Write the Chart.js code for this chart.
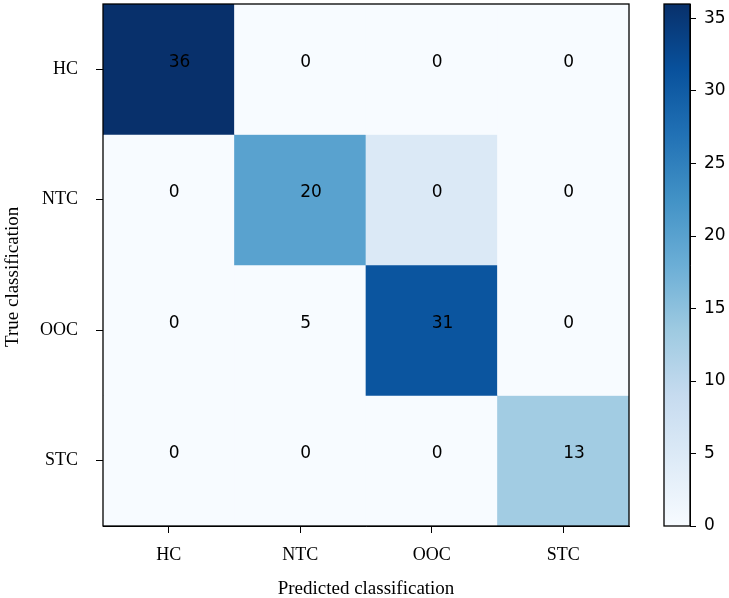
<!DOCTYPE html>
<html lang="en">
<head>
  <meta charset="UTF-8">
  <title>Confusion matrix</title>
  <script src="https://cdn.jsdelivr.net/npm/chart.js@4.4.1/dist/chart.umd.min.js"></script>
  <style>
    body { margin: 0; background: #fff; }
    .wrap { position: relative; width: 729px; height: 598px; }
    #matrixBox { position: absolute; left: 0; top: 0; width: 729px; height: 598px; }
    #barBox { position: absolute; left: 640px; top: 0; width: 89px; height: 598px; }
  </style>
</head>
<body>
  <div class="wrap">
    <div id="matrixBox"><canvas id="matrix"></canvas></div>
    <div id="barBox"><canvas id="colorbar"></canvas></div>
  </div>
  <script>
    const classes = ['HC', 'NTC', 'OOC', 'STC'];

    // numbers written in the cells (rows = true class, columns = predicted)
    const shownCounts = [
      [36, 0, 0, 0],
      [0, 20, 0, 0],
      [0, 5, 31, 0],
      [0, 0, 0, 13]
    ];

    // values the cell colours come from, as they appear in the figure
    const colourCounts = [
      [36, 0, 0, 0],
      [0, 20, 5, 0],
      [0, 0, 31, 0],
      [0, 0, 0, 13]
    ];

    const colourMin = 0;
    const colourMax = 36;
    const colourbarTicks = [0, 5, 10, 15, 20, 25, 30, 35];

    // matplotlib "Blues"
    const blues = ['#f7fbff', '#deebf7', '#c6dbef', '#9ecae1', '#6baed6', '#4292c6', '#2171b5', '#08519c', '#08306b'];

    function hexToRgb(h) {
      const n = parseInt(h.slice(1), 16);
      return [(n >> 16) & 255, (n >> 8) & 255, n & 255];
    }

    function bluesAt(v) {
      let t = (v - colourMin) / (colourMax - colourMin);
      t = Math.max(0, Math.min(1, t));
      const pos = t * (blues.length - 1);
      const i = Math.min(Math.floor(pos), blues.length - 2);
      const f = pos - i;
      const a = hexToRgb(blues[i]);
      const b = hexToRgb(blues[i + 1]);
      const c = a.map((x, k) => Math.round(x + (b[k] - x) * f));
      return 'rgb(' + c.join(',') + ')';
    }

    const serif = { family: '"Liberation Serif", "DejaVu Serif", serif', size: 18 };
    const sans = { family: '"DejaVu Sans", sans-serif', size: 17 };

    Chart.defaults.color = '#000';

    const frame = {
      id: 'frame',
      afterDatasetsDraw(chart) {
        const { ctx, chartArea } = chart;
        ctx.save();
        ctx.strokeStyle = '#000';
        ctx.lineWidth = 1.3;
        ctx.strokeRect(chartArea.left, chartArea.top, chartArea.right - chartArea.left, chartArea.bottom - chartArea.top);
        ctx.restore();
      }
    };

    const cellText = {
      id: 'cellText',
      afterDatasetsDraw(chart) {
        const { ctx, scales } = chart;
        ctx.save();
        ctx.font = sans.size + 'px ' + sans.family;
        ctx.fillStyle = '#000';
        ctx.textAlign = 'left';
        ctx.textBaseline = 'middle';
        shownCounts.forEach((row, r) => {
          row.forEach((val, c) => {
            const x = scales.x.getPixelForValue(c);
            const y = scales.y.getPixelForValue(r) - 7;
            ctx.fillText(String(val), x, y);
          });
        });
        ctx.restore();
      }
    };

    const classTicks = scale => { scale.ticks = classes.map((c, i) => ({ value: i })); };
    const noPad = s => { s.paddingTop = 0; s.paddingBottom = 0; s.paddingLeft = 0; s.paddingRight = 0; };

    new Chart(document.getElementById('matrix'), {
      type: 'bar',
      data: {
        datasets: classes.map((rowName, r) => ({
          label: rowName,
          data: classes.map((colName, c) => ({ x: c, y: [r - 0.5, r + 0.5] })),
          backgroundColor: colourCounts[r].map(bluesAt),
          borderWidth: 0,
          borderSkipped: false,
          grouped: false,
          categoryPercentage: 1,
          barPercentage: 1,
          clip: 0
        }))
      },
      options: {
        responsive: true,
        maintainAspectRatio: false,
        animation: false,
        layout: { padding: { top: 4, right: 100, bottom: 0, left: 0 } },
        plugins: { legend: { display: false }, tooltip: { enabled: false } },
        scales: {
          x: {
            type: 'linear',
            offset: false,
            min: -0.5,
            max: 3.5,
            afterBuildTicks: classTicks,
            afterFit: s => { s.height = 72; noPad(s); },
            ticks: { callback: v => classes[v], font: serif, padding: 11, autoSkip: false, maxRotation: 0 },
            grid: { offset: false, drawOnChartArea: false, drawTicks: true, tickLength: 7, color: '#000' },
            border: { display: true, color: '#000' },
            title: { display: true, text: 'Predicted classification', font: { ...serif, size: 19 }, padding: { top: 4, bottom: -2 } }
          },
          y: {
            type: 'linear',
            reverse: true,
            min: -0.5,
            max: 3.5,
            afterBuildTicks: classTicks,
            afterFit: s => { s.width = 103; noPad(s); },
            ticks: { callback: v => classes[v], font: serif, padding: 18, autoSkip: false },
            grid: { drawOnChartArea: false, drawTicks: true, tickLength: 7, color: '#000' },
            border: { display: true, color: '#000' },
            // trailing spaces push the title a little below the axis centre, as in the figure
            title: { display: true, text: 'True classification     ', font: { ...serif, size: 19 }, padding: { top: 2, bottom: 4 } }
          }
        }
      },
      plugins: [frame, cellText]
    });

    new Chart(document.getElementById('colorbar'), {
      type: 'bar',
      data: {
        labels: [''],
        datasets: [{
          data: [[colourMin, colourMax]],
          backgroundColor: context => {
            const { chart } = context;
            if (!chart.chartArea) return blues[0];
            const y = chart.scales.y;
            const g = chart.ctx.createLinearGradient(0, y.getPixelForValue(colourMin), 0, y.getPixelForValue(colourMax));
            blues.forEach((c, i) => g.addColorStop(i / (blues.length - 1), c));
            return g;
          },
          borderWidth: 0,
          borderSkipped: false,
          categoryPercentage: 1,
          barPercentage: 1
        }]
      },
      options: {
        responsive: true,
        maintainAspectRatio: false,
        animation: false,
        layout: { padding: { top: 4, right: 0, bottom: 72, left: 24 } },
        plugins: { legend: { display: false }, tooltip: { enabled: false } },
        scales: {
          x: { display: false },
          y: {
            position: 'right',
            min: colourMin,
            max: colourMax,
            afterBuildTicks: s => { s.ticks = colourbarTicks.map(v => ({ value: v })); },
            afterFit: s => { s.width = 39; noPad(s); },
            ticks: { font: sans, padding: 8 },
            grid: { drawOnChartArea: false, drawTicks: true, tickLength: 6, color: '#000' },
            border: { display: true, color: '#000' }
          }
        }
      },
      plugins: [frame]
    });
  </script>
</body>
</html>
